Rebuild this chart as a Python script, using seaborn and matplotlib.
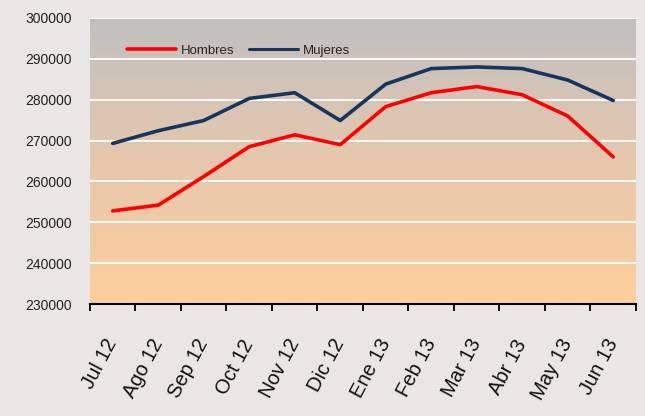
import numpy as np
import pandas as pd
import matplotlib
matplotlib.use("Agg")
import matplotlib.pyplot as plt
import matplotlib.transforms as mtransforms
from matplotlib.colors import LinearSegmentedColormap
import seaborn as sns

meses = ["Jul 12", "Ago 12", "Sep 12", "Oct 12", "Nov 12", "Dic 12",
         "Ene 13", "Feb 13", "Mar 13", "Abr 13", "May 13", "Jun 13"]
hombres = [252800, 254200, 261200, 268500, 271400, 269000,
           278300, 281700, 283200, 281200, 276000, 266000]
mujeres = [269300, 272400, 274900, 280300, 281700, 274900,
           283800, 287600, 288000, 287600, 284800, 279800]
yticks = list(range(230000, 300001, 10000))

df = pd.DataFrame({
    "x": list(range(len(meses))) * 2,
    "valor": hombres + mujeres,
    "serie": ["Hombres"] * len(meses) + ["Mujeres"] * len(meses),
})

sns.set_style("white")
plt.rcParams["font.family"] = ["Liberation Sans", "DejaVu Sans"]

fig = plt.figure(figsize=(6.45, 4.16), dpi=100, facecolor="#ebe6e6")
ax = fig.add_axes([0.1395, 0.269, 0.8465, 0.688])

# gradient background (gray top -> peach bottom)
cmap = LinearSegmentedColormap.from_list("bg", ["#c0c0c0", "#e6c7ad", "#fdcf9c"])
grad = np.linspace(0, 1, 256).reshape(-1, 1)
ax.imshow(grad, aspect="auto", cmap=cmap, extent=[0, 1, 0, 1],
          transform=ax.transAxes, zorder=0)

for y in yticks:
    ax.axhline(y, color="white", lw=1.3, zorder=1)

sns.lineplot(data=df, x="x", y="valor", hue="serie",
             palette={"Hombres": "#ff0000", "Mujeres": "#17365d"},
             linewidth=2.6, ax=ax, zorder=3)
# red a bit heavier than navy
for ln, lw in zip(ax.get_lines()[-2:], [2.9, 2.3]):
    ln.set_linewidth(lw)

ax.set_xlim(-0.5, len(meses) - 0.5)
ax.set_ylim(230000, 300000)
ax.set_yticks(yticks)
ax.set_yticklabels([str(v) for v in yticks], fontsize=10, color="#222222")
ax.tick_params(axis="y", length=0, pad=13)

ax.set_xticks(np.arange(-0.5, len(meses), 1.0))
ax.set_xticklabels([])
ax.tick_params(axis="x", which="major", bottom=True, direction="out",
               length=5, width=1.3, color="black")
ax.set_xticks(range(len(meses)), minor=True)
ax.set_xticklabels(meses, minor=True, rotation=62, ha="right", va="top",
                   rotation_mode="anchor", fontsize=14.5, color="#111111")
ax.tick_params(axis="x", which="minor", bottom=False, length=0, pad=23)
shift = mtransforms.ScaledTranslation(-6 / 72, 0, fig.dpi_scale_trans)
for lab in ax.get_xticklabels(minor=True):
    lab.set_transform(lab.get_transform() + shift)

ax.set_xlabel("")
ax.set_ylabel("")
for s in ["left", "right", "top"]:
    ax.spines[s].set_visible(False)
ax.spines["bottom"].set_color("black")
ax.spines["bottom"].set_linewidth(1.5)
ax.spines["bottom"].set_zorder(4)

leg = ax.legend(loc="upper left", bbox_to_anchor=(0.058, 0.925), ncol=2,
                frameon=False, fontsize=9.5, handlelength=3.7,
                columnspacing=1.1, handletextpad=0.4, borderaxespad=0)
for h, lw in zip(leg.get_lines(), [2.6, 2.2]):
    h.set_linewidth(lw)

fig.savefig("out.png", dpi=100, facecolor=fig.get_facecolor())
